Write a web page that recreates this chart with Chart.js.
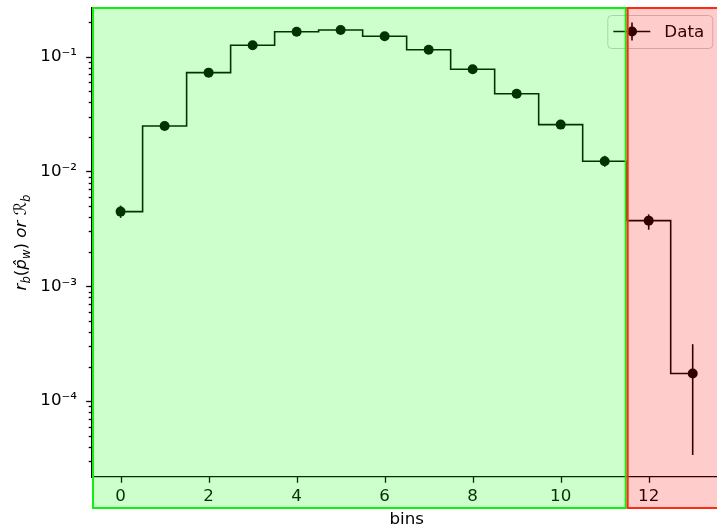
<!DOCTYPE html>
<html>
<head>
<meta charset="utf-8">
<script src="https://cdn.jsdelivr.net/npm/chart.js@4"></script>
<style>
html,body{margin:0;padding:0;background:#fff;overflow:hidden}
#wrap{width:717px;height:529px;position:relative;overflow:hidden}
#c{position:absolute;left:0;top:0}
</style>
</head>
<body>
<div id="wrap"><canvas id="c" width="730" height="529"></canvas></div>
<script>
// ---- data ----
const bins    = [0,1,2,3,4,5,6,7,8,9,10,11,12,13];
const rates   = [0.00447,0.0249,0.0726,0.1257,0.165,0.171,0.1505,0.115,0.0777,0.0476,0.0256,0.01227,0.00373,0.000174];
const errLow  = [0.00394,0.0240,0.0712,0.1240,0.163,0.169,0.1488,0.1132,0.0762,0.0464,0.0246,0.0110,0.00311,0.0000339];
const errHigh = [0.00504,0.0258,0.0740,0.1274,0.167,0.173,0.1522,0.1168,0.0792,0.0488,0.0266,0.0137,0.00423,0.000313];
const xTicks  = [0,2,4,6,8,10,12];
const yDecades = [-5,-4,-3,-2,-1];
const legendLabel = 'Data';
const xTitle = 'bins';
// y-axis title pieces (math text): r_b(p̂_w) or ℛ_b
const yTitleParts = [
  {t:'r', it:true}, {t:'b', it:true, sub:true}, {t:'(', it:false},
  {t:'p\u0302', it:true}, {t:'w', it:true, sub:true}, {t:')', it:false},
  {t:' or ', it:true}, {t:'\u211B', it:false}, {t:'b', it:true, sub:true}
];
const regionSplit = 11.5;
const xMin = -0.65, xMax = 13.65;
const yMin = 2.18e-5, yMax = 0.2655;

// ---- helpers ----
const FONT = 'DejaVu Sans';
const FS = 16.7;
const supMap = {'-':'\u207B','0':'\u2070','1':'\u00B9','2':'\u00B2','3':'\u00B3','4':'\u2074','5':'\u2075','6':'\u2076','7':'\u2077','8':'\u2078','9':'\u2079'};
function sup(n){ return String(n).split('').map(c=>supMap[c]).join(''); }
function isPow10(v){ const e = Math.round(Math.log10(v)); return Math.abs(v/Math.pow(10,e)-1) < 1e-9; }
const yTickValues = [];
yDecades.forEach(e => { for (let m=1; m<=9; m++){ const v = m*Math.pow(10,e); if (v>=yMin && v<=yMax) yTickValues.push(+v.toPrecision(6)); } });

const pts = bins.map((b,i)=>({x:b, y:rates[i]}));
const zeroPad = s => { s.paddingTop = 0; s.paddingBottom = 0; s.paddingLeft = 0; s.paddingRight = 0; };

const deco = {
  id:'deco',
  beforeDatasetsDraw(chart){
    const {ctx, chartArea:a, scales:{x, y}} = chart;
    ctx.save();
    ctx.strokeStyle = '#000'; ctx.lineWidth = 1.33;
    // top spine
    ctx.beginPath(); ctx.moveTo(a.left, a.top); ctx.lineTo(a.right, a.top); ctx.stroke();
    // y ticks
    yTickValues.forEach(v => {
      const py = Math.round(y.getPixelForValue(v)) + 0.5;
      const len = isPow10(v) ? 5.8 : 3.3;
      ctx.beginPath(); ctx.moveTo(a.left - len, py); ctx.lineTo(a.left, py); ctx.stroke();
    });
    // x ticks
    xTicks.forEach(v => {
      const px = Math.round(x.getPixelForValue(v)) + 0.5;
      ctx.beginPath(); ctx.moveTo(px, a.bottom); ctx.lineTo(px, a.bottom + 5.8); ctx.stroke();
    });
    // error bars
    ctx.lineWidth = 1.6;
    bins.forEach((b,i) => {
      const px = x.getPixelForValue(b);
      ctx.beginPath();
      ctx.moveTo(px, y.getPixelForValue(errLow[i]));
      ctx.lineTo(px, y.getPixelForValue(errHigh[i]));
      ctx.stroke();
    });
    ctx.restore();
  },
  afterDraw(chart){
    const {ctx, chartArea:a, scales:{x, y}} = chart;
    ctx.save();
    // legend
    const bx = a.right - 114, by = a.top + 7, bw = 105, bh = 33;
    ctx.beginPath(); ctx.roundRect(bx+0.5, by+0.5, bw, bh, 4);
    ctx.fillStyle = 'rgba(255,255,255,0.8)'; ctx.fill();
    ctx.strokeStyle = '#cccccc'; ctx.lineWidth = 1; ctx.stroke();
    const ly = by + bh/2;
    ctx.strokeStyle = '#000'; ctx.lineWidth = 1.6;
    ctx.beginPath(); ctx.moveTo(bx+6, ly); ctx.lineTo(bx+43, ly); ctx.stroke();
    ctx.beginPath(); ctx.moveTo(bx+24.7, ly-9); ctx.lineTo(bx+24.7, ly+9); ctx.stroke();
    ctx.fillStyle = '#000';
    ctx.beginPath(); ctx.arc(bx+24.7, ly, 5, 0, Math.PI*2); ctx.fill();
    ctx.font = FS + 'px "' + FONT + '"'; ctx.textBaseline = 'middle'; ctx.textAlign = 'left';
    ctx.fillText(legendLabel, bx+57, ly+1);

    // y axis title (rotated math text)
    ctx.save();
    ctx.translate(26, (a.top + a.bottom)/2);
    ctx.rotate(-Math.PI/2);
    ctx.textBaseline = 'alphabetic';
    const fontFor = p => (p.it ? 'oblique ' : '') + (p.sub ? 11.7 : FS) + 'px "' + FONT + '"';
    let total = 0;
    yTitleParts.forEach(p => { ctx.font = fontFor(p); p.w = ctx.measureText(p.t).width; total += p.w; });
    let tx = -total/2;
    yTitleParts.forEach(p => { ctx.font = fontFor(p); ctx.fillText(p.t, tx, p.sub ? 3.5 : 0); tx += p.w; });
    ctx.restore();

    // region overlays
    const split = x.getPixelForValue(regionSplit);
    const top = a.top, bot = a.bottom + 31;
    ctx.lineWidth = 2;
    ctx.fillStyle = 'rgba(0,255,0,0.2)'; ctx.strokeStyle = '#11ee11';
    ctx.fillRect(a.left, top, split - a.left, bot - top);
    ctx.strokeRect(a.left + 1, top, split - a.left - 2, bot - top);
    ctx.fillStyle = 'rgba(255,0,0,0.2)'; ctx.strokeStyle = '#ff2a10';
    ctx.fillRect(split, top, a.right + 20 - split, bot - top);
    ctx.strokeRect(split + 1, top, a.right + 20 - split, bot - top);
    ctx.restore();
  }
};

new Chart(document.getElementById('c'), {
  type: 'line',
  data: {
    datasets: [
      { data: pts, stepped: 'middle', borderColor: '#000', borderWidth: 1.6, pointRadius: 0, fill: false, order: 2 },
      { data: pts, showLine: false, pointRadius: 5, pointBackgroundColor: '#000', pointBorderWidth: 0, order: 1 }
    ]
  },
  options: {
    responsive: false, animation: false, devicePixelRatio: 1,
    layout: { padding: { top: 8, left: 0, right: 8.7, bottom: 0 } },
    plugins: { legend: { display: false }, tooltip: { enabled: false } },
    scales: {
      x: {
        type: 'linear', min: xMin, max: xMax, bounds: 'data',
        afterBuildTicks: s => { s.ticks = xTicks.map(v => ({value: v})); },
        afterFit: s => { s.height = 52; zeroPad(s); },
        grid: { display: false, drawTicks: false },
        border: { display: true, color: '#000', width: 1.33 },
        ticks: { color: '#000', font: { family: FONT, size: FS }, padding: 10, maxRotation: 0, autoSkip: false },
        title: { display: true, text: xTitle, color: '#000', font: { family: FONT, size: FS }, padding: { top: 0, bottom: -1 } }
      },
      y: {
        type: 'logarithmic', min: yMin, max: yMax, bounds: 'data',
        afterBuildTicks: s => { s.ticks = yTickValues.map(v => ({value: v})); },
        afterFit: s => { s.width = 92; zeroPad(s); },
        grid: { display: false, drawTicks: false },
        border: { display: true, color: '#000', width: 1.33 },
        ticks: {
          color: '#000', font: { family: FONT, size: FS }, padding: 15, autoSkip: false,
          callback: v => isPow10(v) ? '10' + sup(Math.round(Math.log10(v))) : ''
        }
      }
    }
  },
  plugins: [deco]
});
</script>
</body>
</html>
